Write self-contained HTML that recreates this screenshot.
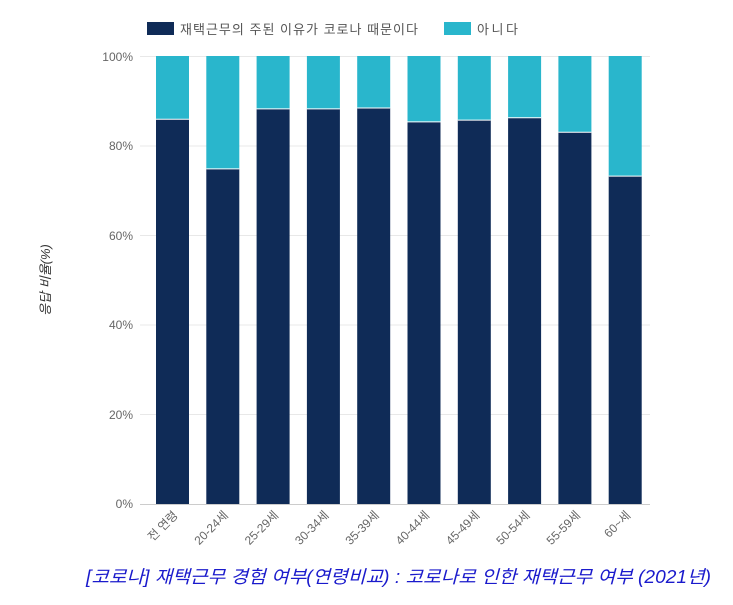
<!DOCTYPE html>
<html><head><meta charset="utf-8"><style>
body{margin:0;background:#fff;width:733px;height:600px;overflow:hidden}
text{font-family:"Liberation Sans","Noto Sans CJK KR",sans-serif}
</style></head><body>
<svg width="733" height="600" viewBox="0 0 733 600">
<rect x="147" y="22" width="27" height="13" fill="#0f2b57"/>
<text x="180" y="34" font-size="13" fill="#555" textLength="238">재택근무의 주된 이유가 코로나 때문이다</text>
<rect x="444" y="22" width="27" height="13" fill="#29b6cc"/>
<text x="477" y="34" font-size="13" fill="#555" textLength="41">아니다</text>
<g stroke="#e8e8e8" stroke-width="1">
<line x1="140" y1="56.5" x2="650" y2="56.5"/>
<line x1="140" y1="146" x2="650" y2="146"/>
<line x1="140" y1="235.5" x2="650" y2="235.5"/>
<line x1="140" y1="325" x2="650" y2="325"/>
<line x1="140" y1="414.5" x2="650" y2="414.5"/>
</g>
<g font-size="12" fill="#666" text-anchor="end">
<text x="133" y="61">100%</text><text x="133" y="150">80%</text><text x="133" y="240">60%</text>
<text x="133" y="329">40%</text><text x="133" y="419">20%</text><text x="133" y="508">0%</text>
</g>
<text transform="translate(50,280) rotate(-90)" font-size="13" fill="#333" text-anchor="middle" font-style="italic">응답 비율(%)</text>
<g fill="#29b6cc">
<rect x="156" y="56" width="33" height="63.2"/>
<rect x="206.3" y="56" width="33" height="112.9"/>
<rect x="256.6" y="56" width="33" height="52.9"/>
<rect x="306.9" y="56" width="33" height="52.9"/>
<rect x="357.2" y="56" width="33" height="52"/>
<rect x="407.5" y="56" width="33" height="65.9"/>
<rect x="457.8" y="56" width="33" height="64.1"/>
<rect x="508.1" y="56" width="33" height="61.8"/>
<rect x="558.4" y="56" width="33" height="76.2"/>
<rect x="608.7" y="56" width="33" height="120.1"/>
</g>
<g fill="#0f2b57">
<rect x="156" y="119.2" width="33" height="384.8"/>
<rect x="206.3" y="168.9" width="33" height="335.1"/>
<rect x="256.6" y="108.9" width="33" height="395.1"/>
<rect x="306.9" y="108.9" width="33" height="395.1"/>
<rect x="357.2" y="108" width="33" height="396"/>
<rect x="407.5" y="121.9" width="33" height="382.1"/>
<rect x="457.8" y="120.1" width="33" height="383.9"/>
<rect x="508.1" y="117.8" width="33" height="386.2"/>
<rect x="558.4" y="132.2" width="33" height="371.8"/>
<rect x="608.7" y="176.1" width="33" height="327.9"/>
</g>
<g stroke="#fff" stroke-width="1">
<line x1="156" y1="119.2" x2="189" y2="119.2"/>
<line x1="206.3" y1="168.9" x2="239.3" y2="168.9"/>
<line x1="256.6" y1="108.9" x2="289.6" y2="108.9"/>
<line x1="306.9" y1="108.9" x2="339.9" y2="108.9"/>
<line x1="357.2" y1="108" x2="390.2" y2="108"/>
<line x1="407.5" y1="121.9" x2="440.5" y2="121.9"/>
<line x1="457.8" y1="120.1" x2="490.8" y2="120.1"/>
<line x1="508.1" y1="117.8" x2="541.1" y2="117.8"/>
<line x1="558.4" y1="132.2" x2="591.4" y2="132.2"/>
<line x1="608.7" y1="176.1" x2="641.7" y2="176.1"/>
</g>
<line x1="140" y1="504.5" x2="650" y2="504.5" stroke="#ccc"/>
<g font-size="12" fill="#666" text-anchor="end">
<text transform="translate(178.5,516) rotate(-45)">전 연령</text>
<text transform="translate(228.8,516) rotate(-45)">20-24세</text>
<text transform="translate(279.1,516) rotate(-45)">25-29세</text>
<text transform="translate(329.4,516) rotate(-45)">30-34세</text>
<text transform="translate(379.7,516) rotate(-45)">35-39세</text>
<text transform="translate(430,516) rotate(-45)">40-44세</text>
<text transform="translate(480.3,516) rotate(-45)">45-49세</text>
<text transform="translate(530.6,516) rotate(-45)">50-54세</text>
<text transform="translate(580.9,516) rotate(-45)">55-59세</text>
<text transform="translate(631.2,516) rotate(-45)">60~세</text>
</g>
<text x="86" y="583" font-size="18" font-style="italic" fill="#1a1acc" textLength="625" lengthAdjust="spacingAndGlyphs">[코로나] 재택근무 경험 여부(연령비교) : 코로나로 인한 재택근무 여부 (2021년)</text>
</svg>
</body></html>
